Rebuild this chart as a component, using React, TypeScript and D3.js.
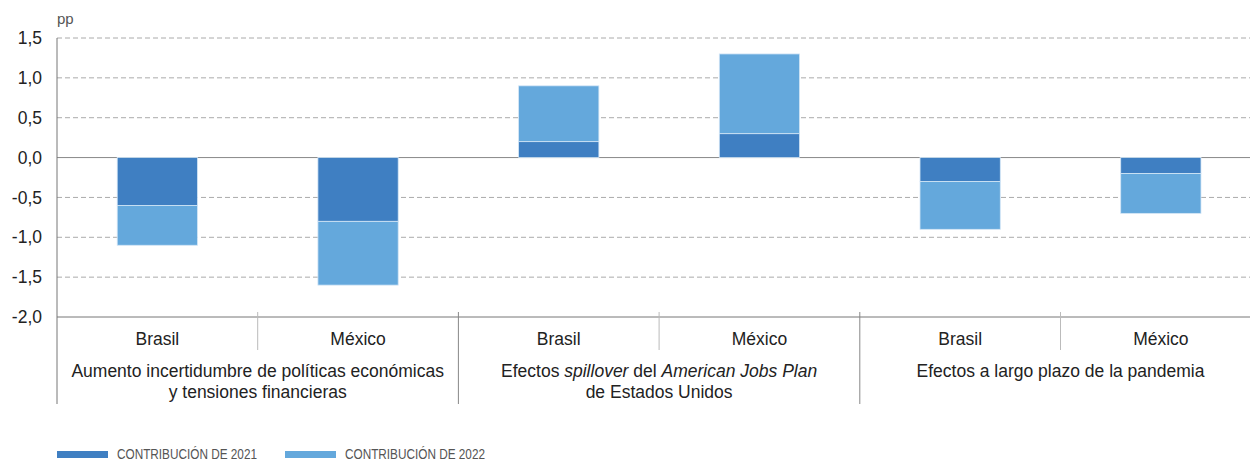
import React from "react";
import * as d3 from "d3";

const categories = ["Brasil", "México", "Brasil", "México", "Brasil", "México"];
const groups = [
  { lines: [[{ t: "Aumento incertidumbre de políticas económicas", i: false }], [{ t: "y tensiones financieras", i: false }]] },
  {
    lines: [
      [
        { t: "Efectos ", i: false },
        { t: "spillover", i: true },
        { t: " del ", i: false },
        { t: "American Jobs Plan", i: true },
      ],
      [{ t: "de Estados Unidos", i: false }],
    ],
  },
  { lines: [[{ t: "Efectos a largo plazo de la pandemia", i: false }]] },
];
const values2021 = [-0.6, -0.8, 0.2, 0.3, -0.3, -0.2];
const values2022 = [-0.5, -0.8, 0.7, 1.0, -0.6, -0.5];
const seriesNames = ["CONTRIBUCIÓN DE 2021", "CONTRIBUCIÓN DE 2022"];
const seriesColors = ["#3f7fc2", "#64a8dc"];
const yTicks = [1.5, 1.0, 0.5, 0.0, -0.5, -1.0, -1.5, -2.0];

const W = 1250;
const H = 461;
const left = 57;
const top = 38;
const bottom = 317;
const step = 200.7;

export default function App() {
  const ids = categories.map((_, i) => String(i));
  const x = d3
    .scaleBand<string>()
    .domain(ids)
    .range([left, left + step * categories.length])
    .paddingInner(0.6)
    .paddingOuter(0.3);
  const y = d3.scaleLinear().domain([-2, 1.5]).range([bottom, top]);

  const table = ids.map((id, i) => ({ id, a: values2021[i], b: values2022[i] }));
  const stack = d3.stack<any>().keys(["a", "b"]).offset(d3.stackOffsetDiverging);
  const series = stack(table);

  const font = "'Liberation Sans', Arial, Helvetica, sans-serif";
  const fmt = (v: number) => d3.format(".1f")(v).replace(".", ",").replace("−", "-");
  const st = x.step();
  const fs = 17.5;

  return (
    <svg
      width={W}
      height={H}
      style={{ position: "absolute", left: 0, top: 0, background: "#fff" }}
      fontFamily={font}
    >
      <text x={57} y={24} fontSize={15} fill="#555">
        pp
      </text>
      {/* grid */}
      {yTicks.map((t) =>
        t === 0 || t === -2 ? null : (
          <line
            key={t}
            x1={left}
            x2={W}
            y1={y(t)}
            y2={y(t)}
            stroke="#aaa"
            strokeWidth={1}
            strokeDasharray="5,3"
          />
        )
      )}
      <line x1={left} x2={W} y1={y(0)} y2={y(0)} stroke="#888" strokeWidth={1} />
      {/* y tick labels */}
      {yTicks.map((t) => (
        <text
          key={"l" + t}
          x={42}
          y={y(t)}
          dy="0.35em"
          textAnchor="end"
          fontSize={fs}
          fill="#222"
        >
          {fmt(t)}
        </text>
      ))}
      {/* bars */}
      {series.map((s, si) =>
        s.map((d, i) => (
          <rect
            key={si + "-" + i}
            x={x(ids[i])!}
            width={x.bandwidth()}
            y={y(Math.max(d[0], d[1]))}
            height={Math.abs(y(d[0]) - y(d[1]))}
            fill={seriesColors[si]}
            stroke="#d4e6f6"
            strokeWidth={0.8}
          />
        ))
      )}
      {/* axes */}
      <line x1={left} x2={W} y1={bottom} y2={bottom} stroke="#777" strokeWidth={1} />
      <line x1={left} x2={left} y1={top} y2={404} stroke="#777" strokeWidth={1} />
      {ids.map((id, i) => {
        if (i === 0) return null;
        const xx = x(id)! - st * 0.3;
        const major = i % 2 === 0;
        return (
          <line
            key={"s" + i}
            x1={xx}
            x2={xx}
            y1={312}
            y2={major ? 404 : 350}
            stroke={major ? "#888" : "#bbb"}
            strokeWidth={1}
          />
        );
      })}
      {/* category labels */}
      {categories.map((c, i) => (
        <text
          key={"c" + i}
          x={x(ids[i])! + x.bandwidth() / 2}
          y={339}
          dy="0.35em"
          textAnchor="middle"
          fontSize={fs}
          fill="#222"
        >
          {c}
        </text>
      ))}
      {/* group labels */}
      {groups.map((g, gi) => {
        const cx = left + st * (2 * gi + 1);
        return g.lines.map((line, li) => (
          <text
            key={"g" + gi + "-" + li}
            x={cx}
            y={371 + li * 21}
            dy="0.35em"
            textAnchor="middle"
            fontSize={fs}
            fill="#222"
          >
            {line.map((p, pi) => (
              <tspan key={pi} fontStyle={p.i ? "italic" : "normal"}>
                {p.t}
              </tspan>
            ))}
          </text>
        ));
      })}
      {/* legend */}
      {seriesNames.map((n, i) => {
        const lx = [57, 285][i];
        return (
          <g key={"lg" + i}>
            <rect x={lx} y={451} width={51} height={7} fill={seriesColors[i]} />
            <text
              x={lx + 60}
              y={459}
              fontSize={15.5}
              fill="#555"
              textLength={140}
              lengthAdjust="spacingAndGlyphs"
            >
              {n}
            </text>
          </g>
        );
      })}
    </svg>
  );
}
